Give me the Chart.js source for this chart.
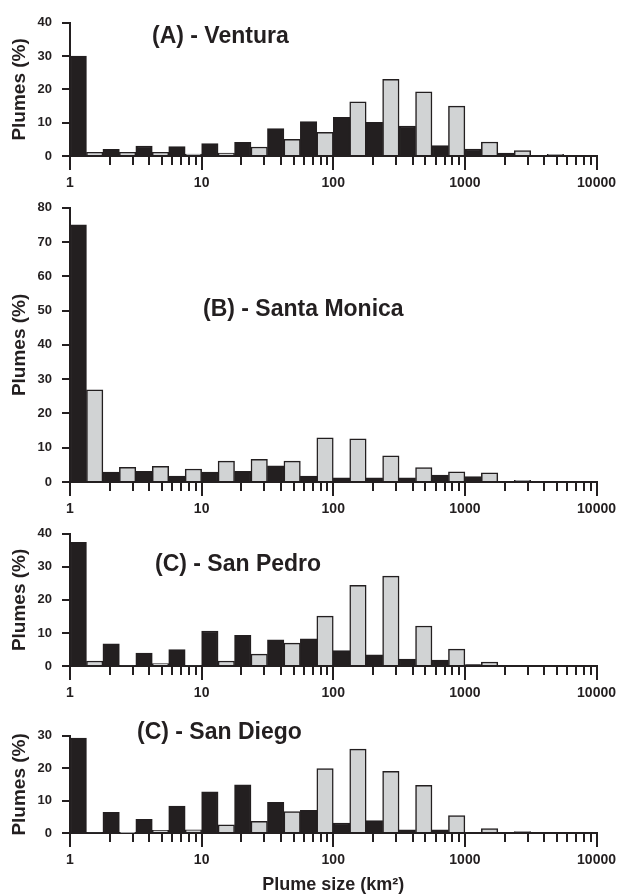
<!DOCTYPE html>
<html>
<head>
<meta charset="utf-8">
<title>Plume size distributions</title>
<script src="https://cdn.jsdelivr.net/npm/chart.js@4.4.1/dist/chart.umd.min.js"></script>
<style>
    body { margin: 0; background: #fff; }
    #page { position: relative; width: 621px; height: 896px; overflow: hidden; }
    .panel { position: absolute; left: 0; width: 621px; }
    .panelTitle {
        position: absolute;
        font: bold 23px "Liberation Sans", Arial, sans-serif;
        line-height: 23px;
        color: #231f20;
        white-space: nowrap;
    }
</style>
</head>
<body>
<div id="page">
    <div class="panel" style="top:5px;height:191px"><canvas id="chartA"></canvas></div>
    <div class="panel" style="top:190px;height:332px"><canvas id="chartB"></canvas></div>
    <div class="panel" style="top:516px;height:190px"><canvas id="chartC"></canvas></div>
    <div class="panel" style="top:718px;height:178px"><canvas id="chartD"></canvas></div>

    <div class="panelTitle" style="left:152px;top:24px">(A) - Ventura</div>
    <div class="panelTitle" style="left:203px;top:297px">(B) - Santa Monica</div>
    <div class="panelTitle" style="left:155px;top:552px">(C) - San Pedro</div>
    <div class="panelTitle" style="left:137px;top:720px">(C) - San Diego</div>
</div>

<script>
// % of plumes in each size bin, 8 bins per decade from 1 to 10000 km2
const binsPerDecade = 8;
const xTickLabels = ["1", "10", "100", "1000", "10000"];

const ventura = [30, 1.1, 2, 1.1, 3, 1.1, 2.8, 0.6, 3.7, 0.9, 4.1, 2.7, 8.2, 5.0, 10.3, 7.1,
    11.6, 16.3, 10.1, 23, 9.0, 19.3, 3.1, 15, 2.1, 4.2, 0.9, 1.6, 0, 0.5, 0, 0];
const santaMonica = [75, 26.9, 2.9, 4.3, 3.1, 4.6, 1.7, 3.8, 2.9, 6.1, 3.1, 6.6, 4.7, 6.1, 1.7, 12.9,
    1.2, 12.6, 1.2, 7.6, 1.2, 4.2, 2.0, 3.0, 1.6, 2.7, 0, 0.5, 0, 0, 0, 0];
const sanPedro = [37.4, 1.5, 6.7, 0.3, 3.9, 0.7, 5.0, 0.3, 10.6, 1.5, 9.3, 3.6, 7.9, 6.9, 8.2, 15.1,
    4.7, 24.4, 3.4, 27.2, 2.1, 12.1, 1.8, 5.1, 0.4, 1.2, 0, 0, 0, 0, 0, 0];
const sanDiego = [29.3, 0.3, 6.4, 0.1, 4.2, 0.8, 8.3, 1.0, 12.7, 2.5, 14.9, 3.6, 9.5, 6.6, 7.0, 19.9,
    3.1, 25.9, 3.8, 19.0, 1.0, 14.7, 1.0, 5.4, 0, 1.4, 0, 0.4, 0, 0, 0, 0];

const DARK = "#231f20";
const LIGHT = "#d1d3d4";
const FONT = "'Liberation Sans', Arial, sans-serif";

// bins are drawn on log10(km2)
const binCenters = ventura.map((v, i) => (i + 0.5) / binsPerDecade);

// short marks at 2..9 x 10^k (decade marks come from the axis itself)
const minorTicks = {
    id: "minorTicks",
    afterDraw(chart) {
        const xs = chart.scales.x;
        const ctx = chart.ctx;
        ctx.save();
        ctx.strokeStyle = DARK;
        ctx.lineWidth = 2;
        for (let k = 0; k < xTickLabels.length - 1; k++) {
            for (let m = 2; m < 10; m++) {
                const px = Math.round(xs.getPixelForValue(k + Math.log10(m)));
                ctx.beginPath();
                ctx.moveTo(px, xs.top);
                ctx.lineTo(px, xs.top + 9);
                ctx.stroke();
            }
        }
        ctx.restore();
    },
};

function makePanel(canvasId, values, yMax, xAxisHeight, showXTitle) {
    new Chart(document.getElementById(canvasId), {
        type: "bar",
        data: {
            datasets: [
                {
                    data: values.map((v, i) => ({ x: binCenters[i], y: v })),
                    backgroundColor: (c) => (c.dataIndex % 2 == 0 ? DARK : LIGHT),
                    borderColor: DARK,
                    borderWidth: 1.5,
                    barPercentage: 1,
                    categoryPercentage: 1,
                },
            ],
        },
        options: {
            responsive: true,
            maintainAspectRatio: false,
            animation: false,
            layout: { padding: { top: 10, right: 23, left: 0, bottom: 0 } },
            plugins: { legend: { display: false }, tooltip: { enabled: false } },
            scales: {
                x: {
                    type: "linear",
                    min: 0,
                    max: 4,
                    offset: false,
                    afterFit: (axis) => {
                        axis.height = xAxisHeight;
                    },
                    grid: { offset: false, drawOnChartArea: false, tickLength: 14, color: DARK, lineWidth: 2 },
                    border: { display: true, color: DARK, width: 2 },
                    ticks: {
                        stepSize: 1,
                        autoSkip: false,
                        maxRotation: 0,
                        padding: 5,
                        color: DARK,
                        font: { family: FONT, size: 14, weight: "bold" },
                        callback: (value) => xTickLabels[value],
                    },
                    title: {
                        display: showXTitle,
                        text: "Plume size (km²)",
                        color: DARK,
                        font: { family: FONT, size: 18, weight: "bold" },
                        padding: 0,
                    },
                },
                y: {
                    min: 0,
                    max: yMax,
                    afterFit: (axis) => {
                        axis.width = 70;
                    },
                    grid: { drawOnChartArea: false, tickLength: 8, color: DARK, lineWidth: 2 },
                    border: { display: true, color: DARK, width: 2 },
                    ticks: {
                        stepSize: 10,
                        padding: 10,
                        color: DARK,
                        font: { family: FONT, size: 13, weight: "bold" },
                    },
                    title: {
                        display: true,
                        text: "Plumes (%)",
                        color: DARK,
                        font: { family: FONT, size: 19, weight: "bold" },
                        padding: { top: 8, bottom: 0 },
                    },
                },
            },
        },
        plugins: [minorTicks],
    });
}

makePanel("chartA", ventura, 40, 40, false);
makePanel("chartB", santaMonica, 80, 40, false);
makePanel("chartC", sanPedro, 40, 40, false);
makePanel("chartD", sanDiego, 30, 63, true);
</script>
</body>
</html>
